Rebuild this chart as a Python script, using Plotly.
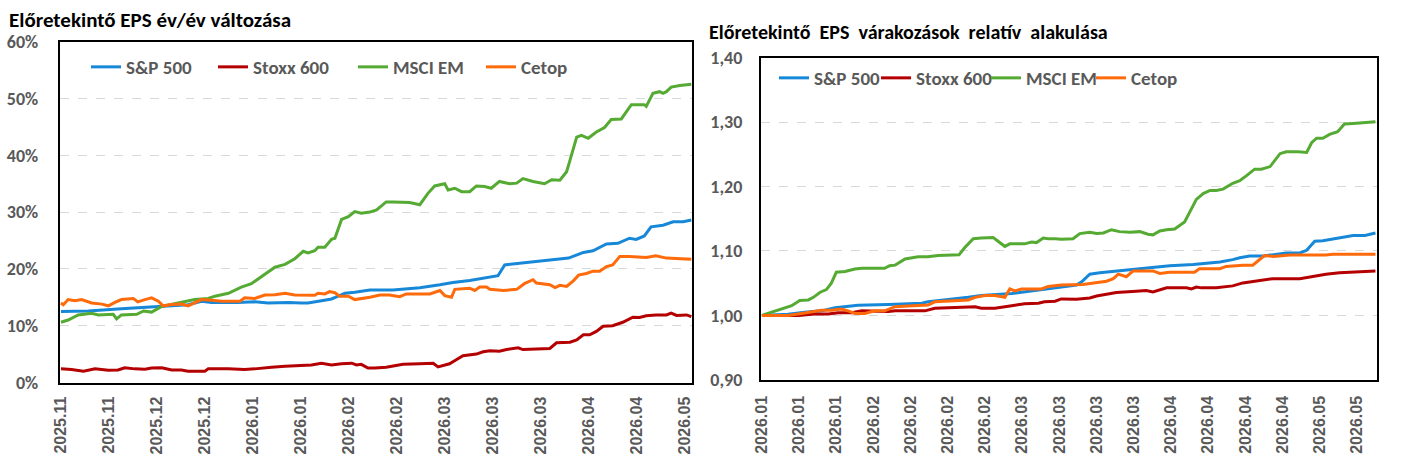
import plotly.graph_objects as go

# ---------------- Left chart: forward EPS y/y change (%), x = trading-day index ----------------
L_TICK_IDX = [0, 10, 20, 30, 40, 50, 60, 70, 80, 90, 100, 110, 120, 130]
L_TICK_TEXT = ["2025.11", "2025.11", "2025.12", "2025.12", "2026.01", "2026.01", "2026.02",
               "2026.02", "2026.03", "2026.03", "2026.03", "2026.04", "2026.04", "2026.05"]

L_SP_X = [0, 5.7, 12.6, 19.6, 26.5, 29.3, 31.4, 36.9, 40.4, 43.2, 47.4, 50.1, 51.5, 54.3, 56.4, 57.8,
          59.2, 61.25, 64.4, 69.2, 74.8, 79, 81.7, 85.2, 88, 91.1, 92.5, 95.6, 99.1, 102.6, 105.8,
          108.9, 110.9, 113.7, 116.1, 118.5, 119.9, 121.6, 123, 125.5, 127.6, 129.7, 131.4]
L_SP_Y = [12.5, 12.6, 13.0, 13.4, 13.7, 14.3, 14.1, 14.1, 14.2, 14.0, 14.1, 14.0, 14.0, 14.4, 14.7, 15.2,
          15.7, 15.9, 16.3, 16.3, 16.7, 17.2, 17.6, 17.95, 18.4, 18.8, 20.7, 21.0, 21.3, 21.6, 21.9,
          22.9, 23.2, 24.4, 24.5, 25.4, 25.2, 25.8, 27.4, 27.7, 28.3, 28.3, 28.6]

L_STOXX_X = [0, 2.2, 4.7, 7.1, 9.9, 11.9, 13.3, 15.4, 17.5, 18.9, 21, 23.1, 25.1, 26.5, 30, 30.7, 34.9,
             38.3, 40.4, 41.8, 43.9, 46.7, 52.2, 54.3, 56.4, 58.5, 60.6, 61.6, 62.6, 64, 65.4, 67.8,
             71.3, 74.8, 77.6, 78.6, 81, 82.4, 83.8, 86.6, 88, 89.4, 91.4, 92.9, 95.3, 96.3, 99.1,
             101.9, 103.3, 106.1, 107.5, 108.9, 110.2, 111.6, 113, 115, 117.1, 119.2, 120.6, 122,
             124, 126.2, 127.2, 128.3, 130.4, 131.4]
L_STOXX_Y = [2.4, 2.3, 2.0, 2.4, 2.15, 2.2, 2.6, 2.4, 2.35, 2.55, 2.6, 2.2, 2.2, 2.0, 2.0, 2.4, 2.4,
             2.3, 2.4, 2.55, 2.7, 2.85, 3.1, 3.4, 3.1, 3.3, 3.4, 3.1, 3.2, 2.55, 2.55, 2.7,
             3.2, 3.3, 3.4, 2.75, 3.3, 4.0, 4.7, 5.0, 5.4, 5.6, 5.5, 5.8, 6.1, 5.8, 5.9,
             6.0, 7.0, 7.1, 7.5, 8.4, 8.4, 9.0, 9.9, 10.0, 10.6, 11.5, 11.45, 11.75,
             11.9, 11.9, 12.2, 11.8, 11.9, 11.6]

L_EM_X = [0, 1.5, 3.6, 6.4, 7.8, 10.9, 11.6, 12.6, 15.8, 17.2, 18.9, 21, 24.4, 27.9, 30.7, 32.1, 34.9,
          37.6, 39.7, 42.5, 44.6, 46.7, 48.75, 50.5, 51.5, 52.9, 53.6, 55, 56.4, 57.1, 58.5, 59.9,
          61.25, 62.6, 64.4, 65.8, 67.8, 69.2, 72.7, 74.8, 76.5, 77.9, 80, 80.7, 82.1, 83.5, 85.2,
          86.6, 88.3, 89.7, 91.4, 93.5, 95, 96.3, 98.4, 100.8, 102.3, 104, 105.4, 106.1, 107.5,
          108.5, 109.9, 111.6, 113.3, 114.7, 116.8, 118.9, 121.6, 122, 123.4, 124.8, 125.5, 126.2,
          127.2, 129, 131.4]
L_EM_Y = [10.6, 11.0, 11.9, 12.2, 11.9, 12.0, 11.2, 11.9, 12.0, 12.6, 12.4, 13.4, 14.0, 14.6, 14.8, 15.2, 15.7,
          16.8, 17.4, 19.1, 20.3, 20.8, 21.8, 23.1, 22.8, 23.2, 23.8, 23.8, 25.2, 25.4, 28.7, 29.2,
          30.1, 29.8, 30.0, 30.4, 31.8, 31.8, 31.7, 31.3, 33.3, 34.6, 35.0, 33.9, 34.2, 33.6, 33.6,
          34.6, 34.5, 34.2, 35.4, 35.0, 35.1, 35.9, 35.4, 35.0, 35.7, 35.6, 37.1, 39.1, 43.2,
          43.5, 43.0, 44.1, 44.9, 46.3, 46.4, 48.9, 48.9, 48.6, 50.9, 51.2, 50.9, 51.2,
          52.0, 52.3, 52.5]

L_CETOP_X = [0, 0.5, 1.5, 2.9, 4.3, 6.4, 8.5, 9.9, 11.25, 12.6, 15.1, 16, 17.5, 18.9, 20.3, 21.3, 23.1,
             25.1, 26.5, 27.9, 29.3, 31.4, 33.5, 37.3, 38.3, 40.4, 42.5, 44.6, 46.7, 48.75, 51.5,
             52.9, 53.6, 55, 56, 57.1, 58.1, 59.9, 61.25, 63.3, 64.4, 66.5, 68.5, 70.6, 72, 76.9,
             79, 80, 81.4, 82.1, 85.2, 86.25, 87.3, 88.7, 89.4, 92.2, 95, 96.6, 98.4, 99.1, 101.9,
             103, 104, 105.4, 106.8, 107.9, 109.5, 110.9, 112.3, 113.7, 115, 116.5, 118.5, 122,
             124, 126.2, 128.3, 129.7, 131.4]
L_CETOP_Y = [14.0, 13.7, 14.6, 14.4, 14.6, 14.0, 13.8, 13.5, 14.1, 14.6, 14.8, 14.2, 14.6, 14.9, 14.3, 13.5, 13.75,
             13.8, 13.5, 14.0, 14.6, 14.5, 14.3, 14.3, 14.9, 14.8, 15.4, 15.45, 15.7, 15.4, 15.35,
             15.35, 15.7, 15.6, 16.0, 15.8, 15.2, 15.2, 14.6, 14.8, 15.0, 15.4, 15.4, 15.1, 15.6, 15.6,
             16.2, 15.3, 15.0, 16.4, 16.6, 16.2, 16.8, 16.8, 16.4, 16.2, 16.4, 17.4, 18.1, 17.5, 17.2,
             16.7, 17.1, 16.9, 17.9, 18.9, 19.2, 19.6, 19.6, 20.4, 20.7, 22.2, 22.2, 22.0,
             22.3, 21.9, 21.8, 21.7, 21.7]

L_Y_TICKS = [0, 10, 20, 30, 40, 50, 60]
L_Y_TEXT = ["0%", "10%", "20%", "30%", "40%", "50%", "60%"]

# ---------------- Right chart: relative forward EPS expectations (start = 1) ----------------
R_TICK_IDX = [0, 6, 12, 18, 24, 30, 36, 42, 48, 54, 60, 66, 72, 78, 84, 90, 96]
R_TICK_TEXT = ["2026.01", "2026.01", "2026.01", "2026.02", "2026.02", "2026.02", "2026.02",
               "2026.03", "2026.03", "2026.03", "2026.03", "2026.04", "2026.04", "2026.04",
               "2026.04", "2026.05", "2026.05"]

R_SP_X = [0, 4.2, 6.9, 9.6, 11.8, 13.9, 15.5, 20.4, 23.1, 25.8, 26.8, 31.1, 33.3, 35.4, 39.2, 40.3, 41.9,
          45.1, 48.1, 50.75, 51.6, 52.9, 54.5, 58.3, 62.0, 65.8, 69.6, 73.9, 75.97, 77.1, 78.7, 80.9,
          84.6, 86.8, 87.9, 89.2, 90.5, 93.2, 95.4, 97.3, 99.0]
R_SP_Y = [1.000, 1.0016, 1.005, 1.007, 1.012, 1.0146, 1.0156, 1.017, 1.018, 1.019, 1.021, 1.025, 1.028,
          1.031, 1.033, 1.034, 1.036, 1.040, 1.043, 1.047, 1.052, 1.064, 1.066, 1.070, 1.0735, 1.077,
          1.079, 1.083, 1.0865, 1.0895, 1.092, 1.092, 1.097, 1.097, 1.101, 1.115, 1.116, 1.120, 1.124,
          1.124, 1.128]

R_STOXX_X = [0, 5.9, 8.5, 10.7, 12.3, 14.5, 16.1, 20.4, 21.5, 26.3, 27.9, 31.7, 34.4, 35.4, 37.6, 40.3,
             42.4, 44.6, 45.6, 47.3, 48.3, 50.75, 52.9, 54.0, 56.1, 57.2, 60.4, 62.0, 63.1, 65.3, 68.5,
             69.3, 70.1, 70.9, 73.3, 75.97, 77.6, 80.3, 82.5, 86.8, 88.9, 91.0, 93.2, 96.5, 99.0]
R_STOXX_Y = [1.000, 1.000, 1.002, 1.002, 1.004, 1.004, 1.007, 1.006, 1.007, 1.007, 1.011, 1.0125, 1.0135,
             1.011, 1.011, 1.015, 1.018, 1.019, 1.021, 1.022, 1.0255, 1.025, 1.027, 1.030, 1.033,
             1.0355, 1.0375, 1.0386, 1.0365, 1.0427, 1.0427, 1.041, 1.044, 1.0427, 1.043, 1.0458,
             1.0504, 1.0535, 1.057, 1.057, 1.061, 1.064, 1.066, 1.0674, 1.069]

R_EM_X = [0, 1.0, 2.6, 4.8, 6.1, 7.5, 8.3, 9.4, 10.4, 11.2, 12.0, 13.4, 15.0, 16.1, 19.8, 20.6, 21.5,
          23.1, 25.2, 26.8, 28.4, 30.1, 31.8, 32.7, 34.1, 35.4, 37.3, 38.1, 39.2, 40.0, 42.4, 43.5,
          44.3, 45.4, 46.2, 47.3, 48.3, 50.2, 51.3, 52.9, 54.0, 55.1, 56.4, 57.7, 59.4, 60.97, 62.3,
          63.1, 64.2, 65.3, 66.6, 68.2, 69.0, 70.1, 71.2, 72.3, 73.3, 74.4, 75.97, 77.1, 78.2, 79.5,
          80.6, 82.0, 83.6, 84.6, 86.5, 87.9, 88.7, 89.5, 90.5, 91.6, 92.9, 94.0, 95.4, 97.0, 99.0]
R_EM_Y = [1.000, 1.003, 1.009, 1.015, 1.023, 1.024, 1.028, 1.036, 1.040, 1.050, 1.067, 1.068, 1.072,
          1.073, 1.073, 1.077, 1.078, 1.0875, 1.091, 1.091, 1.093, 1.094, 1.094, 1.105, 1.119, 1.120,
          1.121, 1.115, 1.107, 1.111, 1.111, 1.114, 1.113, 1.120, 1.119, 1.119, 1.118, 1.119, 1.127,
          1.129, 1.127, 1.128, 1.133, 1.130, 1.129, 1.130, 1.126, 1.125, 1.131, 1.133, 1.134, 1.145,
          1.160, 1.180, 1.189, 1.194, 1.194, 1.196, 1.205, 1.209, 1.217, 1.227, 1.227, 1.231, 1.251,
          1.254, 1.254, 1.253, 1.268, 1.275, 1.275, 1.281, 1.285, 1.297, 1.298, 1.299, 1.3005]

R_CETOP_X = [0, 4.2, 6.4, 9.6, 11.2, 12.8, 13.9, 15.0, 16.6, 18.2, 19.8, 21.5, 23.6, 26.8, 27.9, 30.1,
             33.3, 34.4, 36.0, 37.6, 39.2, 40.0, 40.8, 41.9, 45.1, 46.2, 48.3, 51.8, 53.4, 55.6, 56.7,
             57.5, 58.8, 59.9, 63.1, 64.2, 65.8, 69.8, 70.6, 73.9, 74.9, 77.6, 79.2, 81.1, 82.5, 84.1,
             85.2, 91.0, 92.1, 99.0]
R_CETOP_Y = [1.000, 1.000, 1.003, 1.008, 1.008, 1.010, 1.007, 1.003, 1.003, 1.007, 1.007, 1.0135, 1.0146,
             1.016, 1.021, 1.022, 1.024, 1.028, 1.031, 1.031, 1.028, 1.041, 1.038, 1.041, 1.041, 1.045,
             1.047, 1.048, 1.050, 1.053, 1.057, 1.064, 1.060, 1.069, 1.069, 1.065, 1.067, 1.067, 1.0725,
             1.0725, 1.076, 1.078, 1.078, 1.093, 1.0915, 1.0925, 1.0937, 1.0937, 1.0947, 1.0947]

R_Y_TICKS = [0.9, 1.0, 1.1, 1.2, 1.3, 1.4]

SERIES_NAMES = ["S&P 500", "Stoxx 600", "MSCI EM", "Cetop"]
COLORS = ["#1788D8", "#B40000", "#55AA33", "#FF6A0A"]

# ---------------- figure ----------------
W, H = 1402, 467
GRAY = "#595959"
NUM_FONT = "Carlito, 'Liberation Sans Narrow', 'Open Sans', sans-serif"
AX_FONT = "'Liberation Sans', Arial, sans-serif"

def px_x(p):
    return p / W

def px_y(p):
    return 1 - p / H

fig = go.Figure()

left = [(L_SP_X, L_SP_Y), (L_STOXX_X, L_STOXX_Y), (L_EM_X, L_EM_Y), (L_CETOP_X, L_CETOP_Y)]
right = [(R_SP_X, R_SP_Y), (R_STOXX_X, R_STOXX_Y), (R_EM_X, R_EM_Y), (R_CETOP_X, R_CETOP_Y)]
L_LEG_W = [82, 95, 83, 60]
R_LEG_W = [57, 65, 60, 50]

for i, (xs, ys) in enumerate(left):
    fig.add_trace(go.Scatter(x=xs, y=ys, mode="lines", name=SERIES_NAMES[i],
                             line=dict(color=COLORS[i], width=3),
                             xaxis="x", yaxis="y", legend="legend",
                             legendwidth=L_LEG_W[i], hoverinfo="skip"))
for i, (xs, ys) in enumerate(right):
    fig.add_trace(go.Scatter(x=xs, y=ys, mode="lines", name=SERIES_NAMES[i],
                             line=dict(color=COLORS[i], width=3),
                             xaxis="x2", yaxis="y2", legend="legend2",
                             legendwidth=R_LEG_W[i], hoverinfo="skip"))

axis_common = dict(showline=True, linecolor="black", linewidth=1.5, mirror=True,
                   zeroline=False, automargin=False, fixedrange=True)

fig.update_layout(
    width=W, height=H,
    margin=dict(l=0, r=0, t=0, b=0),
    paper_bgcolor="white", plot_bgcolor="white",
    separators=", ",
    xaxis=dict(domain=[px_x(59.5), px_x(692.3)], range=[-0.3, 131.6], anchor="y",
               tickmode="array", tickvals=L_TICK_IDX, ticktext=L_TICK_TEXT, tickangle=-90,
               ticks="", showgrid=False, ticklabelstandoff=6,
               tickfont=dict(family=AX_FONT, size=16, color=GRAY, weight="bold"), **axis_common),
    yaxis=dict(domain=[px_y(382.5), px_y(41.7)], range=[0, 60], anchor="x",
               tickmode="array", tickvals=L_Y_TICKS, ticktext=L_Y_TEXT, ticks="",
               showgrid=True, gridcolor="#D9D9D9", griddash="dash", gridwidth=1,
               ticklabelstandoff=16,
               tickfont=dict(family=NUM_FONT, size=18, color=GRAY, weight="bold"), **axis_common),
    xaxis2=dict(domain=[px_x(760.7), px_x(1376.7)], range=[-0.2, 99.2], anchor="y2",
                tickmode="array", tickvals=R_TICK_IDX, ticktext=R_TICK_TEXT, tickangle=-90,
                ticks="", showgrid=False, ticklabelstandoff=8,
                tickfont=dict(family=AX_FONT, size=16, color=GRAY, weight="bold"), **axis_common),
    yaxis2=dict(domain=[px_y(379.8), px_y(57.7)], range=[0.9, 1.4], anchor="x2",
                tickmode="array", tickvals=R_Y_TICKS, tickformat=".2f", ticks="",
                showgrid=True, gridcolor="#D9D9D9", griddash="dash", gridwidth=1,
                ticklabelstandoff=13,
                tickfont=dict(family=NUM_FONT, size=18, color=GRAY, weight="bold"), **axis_common),
    legend=dict(orientation="h", x=px_x(86), xanchor="left", y=px_y(67), yanchor="middle",
                bgcolor="rgba(0,0,0,0)", borderwidth=0,
                font=dict(family=NUM_FONT, size=19, color=GRAY, weight="bold")),
    legend2=dict(orientation="h", x=px_x(774), xanchor="left", y=px_y(78), yanchor="middle",
                 bgcolor="rgba(0,0,0,0)", borderwidth=0,
                 font=dict(family=NUM_FONT, size=19, color=GRAY, weight="bold")),
    annotations=[
        dict(text="Előretekintő EPS év/év változása", xref="paper", yref="paper",
             x=px_x(7), y=px_y(20), xanchor="left", yanchor="middle", showarrow=False,
             font=dict(family=NUM_FONT, size=21, color="black", weight="bold")),
        dict(text="Előretekintő  EPS  várakozások  relatív  alakulása", xref="paper", yref="paper",
             x=px_x(707), y=px_y(32), xanchor="left", yanchor="middle", showarrow=False,
             font=dict(family=NUM_FONT, size=20, color="black", weight="bold")),
    ],
    showlegend=True,
)

fig.write_html("out.html")
